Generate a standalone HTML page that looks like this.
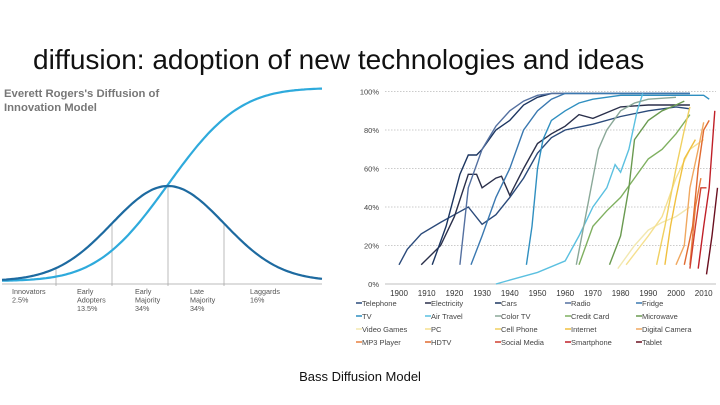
<!DOCTYPE html>
<html><head><meta charset="utf-8">
<style>
body{margin:0;width:720px;height:405px;background:#fff;overflow:hidden;font-family:"Liberation Sans",sans-serif;position:relative}
#title{position:absolute;left:33px;top:44px;font-size:28px;color:#111;white-space:nowrap}
#caption{position:absolute;left:0;width:720px;top:369px;text-align:center;font-size:13px;color:#111}
svg{position:absolute;left:0;top:0}
</style></head>
<body>
<div id="title">diffusion: adoption of new technologies and ideas</div>
<div id="caption">Bass Diffusion Model</div>
<svg id="left" width="330" height="320" viewBox="0 0 330 320"></svg>
<svg id="right" width="720" height="360" viewBox="0 0 720 360"></svg>
<script>
// Rogers model data
const segLabels=[["Innovators","2.5%"],["Early","Adopters","13.5%"],["Early","Majority","34%"],["Late","Majority","34%"],["Laggards","16%"]];
const modelMean=168, modelSd=56;
// Adoption chart data
const years=[1900,1910,1920,1930,1940,1950,1960,1970,1980,1990,2000,2010];
const yTicks=[0,20,40,60,80,100];
const names=["Telephone","Electricity","Cars","Radio","Fridge","TV","Air Travel","Color TV","Credit Card","Microwave","Video Games","PC","Cell Phone","Internet","Digital Camera","MP3 Player","HDTV","Social Media","Smartphone","Tablet"];
const colors=["#2b4a7a","#2a2f4a","#1c3560","#5470a0","#3a78b0","#2f8fc0","#5bc0e0","#8aa898","#7fb060","#6a9a50","#f2e8b0","#f5e090","#f0d060","#f0c040","#f0a860","#e88040","#e06a30","#d04030","#c02028","#6a1020"];
const series=[
[[1900,10],[1903,18],[1908,26],[1915,32],[1920,36],[1925,40],[1930,31],[1935,36],[1940,45],[1945,55],[1950,68],[1955,76],[1960,80],[1970,83],[1980,87],[1990,90],[2000,92],[2005,91]],
[[1908,10],[1915,20],[1920,35],[1925,57],[1928,57],[1930,50],[1935,55],[1937,56],[1940,46],[1945,60],[1950,73],[1955,78],[1960,82],[1965,88],[1970,86],[1980,92],[1990,93],[2005,93]],
[[1912,10],[1917,30],[1922,57],[1925,67],[1928,67],[1930,70],[1935,80],[1940,85],[1945,93],[1950,97],[1955,99],[2005,99]],
[[1922,10],[1925,50],[1930,70],[1935,82],[1940,90],[1945,95],[1950,98],[1955,99],[2005,99]],
[[1926,10],[1930,25],[1935,45],[1940,60],[1945,80],[1950,90],[1955,96],[1960,99],[2005,99]],
[[1946,10],[1948,30],[1950,60],[1952,75],[1955,85],[1960,90],[1965,94],[1970,96],[1980,98],[2010,98],[2012,96]],
[[1935,0],[1940,2],[1950,6],[1960,12],[1965,25],[1970,40],[1975,50],[1978,62],[1980,58],[1983,70],[1986,90],[1988,99]],
[[1964,10],[1968,40],[1972,70],[1975,80],[1980,90],[1985,94],[1990,96],[2000,97]],
[[1965,10],[1970,30],[1975,38],[1980,45],[1985,55],[1990,65],[1995,70],[2000,78],[2005,88]],
[[1976,10],[1980,25],[1983,50],[1985,75],[1990,85],[1995,90],[2000,93],[2003,95]],
[[1979,8],[1985,20],[1990,28],[1995,32],[2000,35],[2005,40]],
[[1982,10],[1990,25],[1995,35],[2000,55],[2005,70],[2010,75]],
[[1993,10],[1996,30],[2000,60],[2003,80],[2005,92]],
[[1996,10],[1998,30],[2000,45],[2003,65],[2007,75]],
[[2000,10],[2003,20],[2005,50],[2008,70],[2010,84]],
[[2005,10],[2007,40],[2009,55]],
[[2003,10],[2006,30],[2008,60],[2010,80],[2012,85]],
[[2005,8],[2007,30],[2009,50],[2011,50]],
[[2008,8],[2010,30],[2012,50],[2014,90]],
[[2011,5],[2013,25],[2015,50]]
];
const NS="http://www.w3.org/2000/svg";
function mk(svg,tag,attrs,text){const e=document.createElementNS(NS,tag);for(const k in attrs)e.setAttribute(k,attrs[k]);if(text!==undefined)e.textContent=text;svg.appendChild(e);return e;}
// ---- Left chart
const L=document.getElementById('left');
const base=281, sTop=88, peakH=95;
function bell(x){return base-peakH*Math.exp(-Math.pow((x-modelMean)/modelSd,2)/2);}
function cdf(z){const t=1/(1+0.2316419*Math.abs(z));const d=0.3989423*Math.exp(-z*z/2);let p=d*t*(0.3193815+t*(-0.3565638+t*(1.781478+t*(-1.821256+t*1.330274))));return z>0?1-p:p;}
function scurve(x){return base-(base-sTop)*cdf((x-modelMean)/modelSd);}
let t1=mk(L,'text',{x:4,y:97,'font-size':11.3,'font-weight':'bold',fill:'#777'},"Everett Rogers's Diffusion of");

let t2=mk(L,'text',{x:4,y:111,'font-size':11.3,'font-weight':'bold',fill:'#777'},"Innovation Model");

const ax=mk(L,'line',{x1:2,y1:284,x2:322,y2:284,stroke:'#bbb','stroke-width':1});

const divs=[-2,-1,0,1];
divs.forEach((k,i)=>{const x=modelMean+k*modelSd;const l=mk(L,'line',{x1:x,y1:bell(x),x2:x,y2:286,stroke:'#aaa','stroke-width':0.8});
});
let pb='',ps='';for(let x=2;x<=322;x+=2){pb+=(x===2?'M':'L')+x+','+bell(x).toFixed(1);ps+=(x===2?'M':'L')+x+','+scurve(x).toFixed(1);}
const sc=mk(L,'path',{d:ps,fill:'none',stroke:'#2eaadc','stroke-width':2.2});

const bc=mk(L,'path',{d:pb,fill:'none',stroke:'#1d6aa0','stroke-width':2.2});

const segX=[12,77,135,190,250];
segLabels.forEach((lines,i)=>{lines.forEach((s,j)=>{const t=mk(L,'text',{x:segX[i],y:294+j*8.5,'font-size':7.2,fill:'#555'},s);
});});
// ---- Right chart
const R=document.getElementById('right');
const xs=y=>399+(y-1900)*2.77;
const ys=p=>284-p*1.925;
yTicks.forEach(p=>{const g=mk(R,'line',{x1:385,x2:716,y1:ys(p),y2:ys(p),stroke:p===0?'#aaa':'#bbb','stroke-dasharray':p===0?'':'1.5,1.5','stroke-width':0.8});

const t=mk(R,'text',{x:379,y:ys(p)+3,'font-size':7.5,fill:'#444','text-anchor':'end'},p+'%');
});
years.forEach(y=>{const t=mk(R,'text',{x:xs(y),y:296,'font-size':8,fill:'#333','text-anchor':'middle'},y);
});
series.forEach((pts,i)=>{const d=pts.map((p,j)=>(j?'L':'M')+xs(p[0]).toFixed(1)+','+ys(p[1]).toFixed(1)).join('');
const pth=mk(R,'path',{d:d,fill:'none',stroke:colors[i],'stroke-width':1.4});

});
const legX=[356,425,495,565,636];
names.forEach((n,i)=>{const c=i%5,r=Math.floor(i/5);const x=legX[c],y=306+r*13;
const l=mk(R,'line',{x1:x,x2:x+6,y1:y-3,y2:y-3,stroke:colors[i],'stroke-width':1.5});

const t=mk(R,'text',{x:x+6,y:y,'font-size':7.5,fill:'#444'},n);
});
</script>
</body></html>
